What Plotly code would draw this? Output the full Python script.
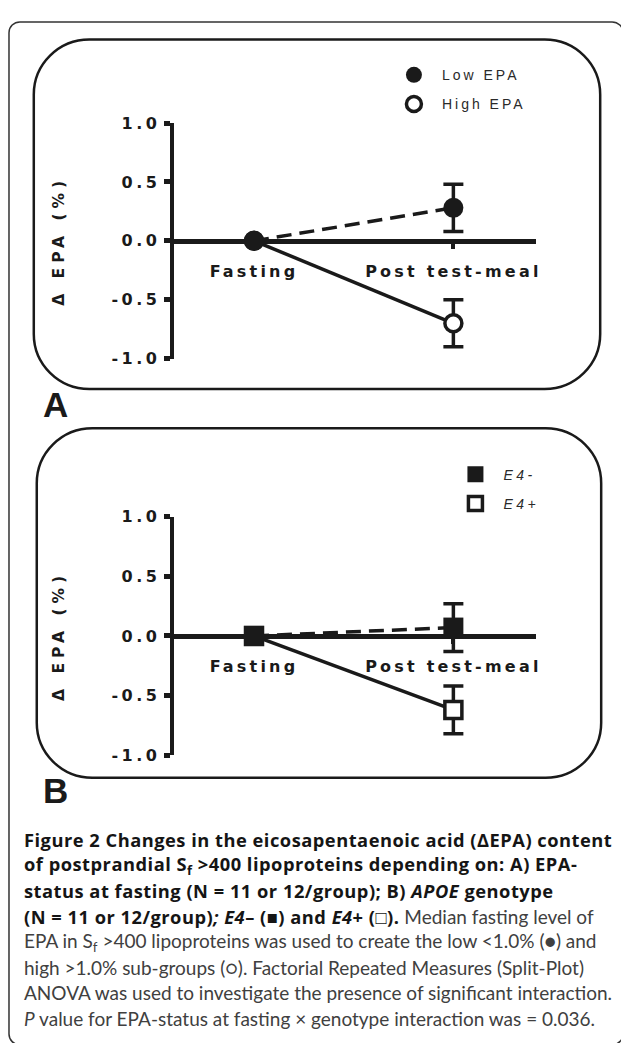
import plotly.graph_objects as go

# The page body adds an 8px margin, so the figure is sized to fit the window.
OFF = 8
W, H = 629 - OFF, 1043 - OFF

# ---------------- data ----------------
categories = ["Fasting", "Post test-meal"]
y_tick_vals = [-1.0, -0.5, 0.0, 0.5, 1.0]
y_tick_labels = ["-1.0", "-0.5", "0.0", "0.5", "1.0"]

# Panel A: EPA status at fasting
low_epa = [0.0, 0.28]
low_epa_err = [0.0, 0.20]
high_epa = [0.0, -0.70]
high_epa_err = [0.0, 0.20]

# Panel B: APOE genotype
e4_neg = [0.0, 0.07]
e4_neg_err = [0.0, 0.20]
e4_pos = [0.0, -0.62]
e4_pos_err = [0.0, 0.20]


def bold(t):
    return ('<span style="font-family:Open Sans;font-size:18.3px;color:#151515;'
            f'letter-spacing:0.5px"><b>{t}</b></span>')


caption_lines = [
    bold("Figure 2 Changes in the eicosapentaenoic acid (ΔEPA) content"),
    bold("of postprandial S<sub>f</sub> &gt;400 lipoproteins depending on: A) EPA-"),
    bold("status at fasting (N = 11 or 12/group); B) <i>APOE</i> genotype"),
    bold("(N = 11 or 12/group)<i>; E4</i>– (■) and <i>E4</i>+ (□).") + " Median fasting level of",
    "EPA in S<sub>f</sub> &gt;400 lipoproteins was used to create the low &lt;1.0% (●) and",
    "high &gt;1.0% sub-groups (○). Factorial Repeated Measures (Split-Plot)",
    "ANOVA was used to investigate the presence of significant interaction.",
    "<i>P</i> value for EPA-status at fasting × genotype interaction was = 0.036.",
]

# ---------------- helpers (reference pixel -> paper) ----------------
def px(x):
    return (x - OFF) / W

def py(y):
    return 1 - (y - OFF) / H

def sp(text, gap):
    return f'<span style="letter-spacing:{gap}px">{text}</span>'

def rrect(x0, y0, x1, y1, r):
    k = 0.5523 * r
    pts = [
        ("M", [(x0 + r, y0)]),
        ("L", [(x1 - r, y0)]),
        ("C", [(x1 - r + k, y0), (x1, y0 + r - k), (x1, y0 + r)]),
        ("L", [(x1, y1 - r)]),
        ("C", [(x1, y1 - r + k), (x1 - r + k, y1), (x1 - r, y1)]),
        ("L", [(x0 + r, y1)]),
        ("C", [(x0 + r - k, y1), (x0, y1 - r + k), (x0, y1 - r)]),
        ("L", [(x0, y0 + r)]),
        ("C", [(x0, y0 + r - k), (x0 + r - k, y0), (x0 + r, y0)]),
    ]
    s = ""
    for cmd, ps in pts:
        s += cmd + " ".join(f"{px(a):.5f},{py(b):.5f}" for a, b in ps) + " "
    return s + "Z"

FONT = "DejaVu Sans, sans-serif"
INK = "#1a1a1a"
xpos = list(range(len(categories)))

fig = go.Figure()

def add_series(y, err, symbol, filled, dash, xa, ya):
    fig.add_trace(go.Scatter(
        x=xpos, y=y, xaxis=xa, yaxis=ya, mode="lines+markers", showlegend=False,
        line=dict(color=INK, width=3.5, dash=dash),
        marker=dict(symbol=symbol, size=20 if filled else 17,
                    color=INK if filled else "white",
                    line=dict(color=INK, width=0 if filled else 3.5)),
        error_y=dict(type="data", array=err, visible=True, color=INK, thickness=3.5, width=10),
        cliponaxis=False,
    ))

def add_legend_item(name, symbol, filled, legend, size):
    fig.add_trace(go.Scatter(
        x=[None], y=[None], mode="markers", name=name, legend=legend,
        legendgroup=name, showlegend=True,
        marker=dict(symbol=symbol, size=size if filled else size - 4,
                    color=INK if filled else "white",
                    line=dict(color=INK, width=0 if filled else 3.5)),
    ))

# Panel A (top)
add_series(high_epa, high_epa_err, "circle", False, "solid", "x", "y")
add_series(low_epa, low_epa_err, "circle", True, "15px,8px", "x", "y")
# Panel B (bottom)
add_series(e4_pos, e4_pos_err, "square", False, "solid", "x2", "y2")
add_series(e4_neg, e4_neg_err, "square", True, "15px,8px", "x2", "y2")

add_legend_item(sp("Low EPA", 3), "circle", True, "legend", 19)
add_legend_item(sp("High EPA", 3), "circle", False, "legend", 19)
add_legend_item(sp("<i>E4-</i>", 3.5), "square", True, "legend2", 18)
add_legend_item(sp("<i>E4+</i>", 3.5), "square", False, "legend2", 18)

# ---------------- axes ----------------
xdom = [px(175), px(540)]
ydomA = [py(356), py(116)]
ydomB = [py(760), py(517)]
xr = [-0.403, 1.413]

def xaxis_cfg(ydom):
    return dict(domain=xdom, range=xr, anchor="free", position=(ydom[0] + ydom[1]) / 2,
                showline=True, linewidth=5, linecolor=INK, showgrid=False, zeroline=False,
                ticks="outside", ticklen=5, tickwidth=4, tickcolor=INK,
                tickvals=xpos, ticktext=[sp(c, 3.2) for c in categories],
                tickfont=dict(family=FONT, size=16, color=INK, weight="bold"),
                ticklabelstandoff=9, fixedrange=True)

def yaxis_cfg(ydom, xa):
    return dict(domain=ydom, range=[-1.0, 1.0], anchor=xa, showline=True, linewidth=4,
                linecolor=INK, showgrid=False, zeroline=False, ticks="outside",
                ticklen=6, tickwidth=5, tickcolor=INK, tickvals=y_tick_vals,
                ticktext=[sp(t, 3.5) for t in y_tick_labels],
                tickfont=dict(family=FONT, size=16, color=INK, weight="bold"),
                title=dict(text=sp("<b>Δ EPA (%)</b>", 5), standoff=44,
                           font=dict(family=FONT, size=15.5, color=INK)),
                fixedrange=True)

legend_common = dict(xanchor="left", yanchor="top", bgcolor="rgba(0,0,0,0)",
                     itemwidth=46, tracegroupgap=8, traceorder="grouped",
                     font=dict(family="Liberation Sans, Arial, sans-serif", size=14,
                               color="#2a2a2a"))

annotations = [
    dict(text="<b>A</b>", x=px(56), y=py(403), xref="paper", yref="paper", showarrow=False,
         xanchor="center", yanchor="middle",
         font=dict(family="Liberation Sans, Arial, sans-serif", size=35, color=INK)),
    dict(text="<b>B</b>", x=px(56), y=py(796), xref="paper", yref="paper", showarrow=False,
         xanchor="center", yanchor="middle",
         font=dict(family="Liberation Sans, Arial, sans-serif", size=35, color=INK)),
]
for i, line in enumerate(caption_lines):
    annotations.append(dict(
        text=line, x=px(22), y=py(846 + i * 26.0), xref="paper", yref="paper",
        xanchor="left", yanchor="middle", showarrow=False, align="left",
        font=dict(family="Lato, Open Sans, sans-serif", size=19, color="#404040"),
    ))

shapes = [
    dict(type="path", path=rrect(9, 13, 628, 1055, 11), xref="paper", yref="paper",
         line=dict(color="#333333", width=1.5), layer="below"),
    dict(type="path", path=rrect(34, 31, 605, 387, 56), xref="paper", yref="paper",
         line=dict(color=INK, width=2.5), layer="below"),
    dict(type="path", path=rrect(37, 427, 606, 783, 56), xref="paper", yref="paper",
         line=dict(color=INK, width=2.5), layer="below"),
]

fig.update_layout(
    width=W, height=H, margin=dict(l=0, r=0, t=0, b=0),
    paper_bgcolor="white", plot_bgcolor="rgba(0,0,0,0)",
    xaxis=xaxis_cfg(ydomA), yaxis=yaxis_cfg(ydomA, "x"),
    xaxis2=xaxis_cfg(ydomB), yaxis2=yaxis_cfg(ydomB, "x2"),
    legend=dict(x=px(389), y=py(51), **legend_common),
    legend2=dict(x=px(451), y=py(458), **legend_common),
    annotations=annotations, shapes=shapes, showlegend=True,
)

fig.write_html("out.html")
